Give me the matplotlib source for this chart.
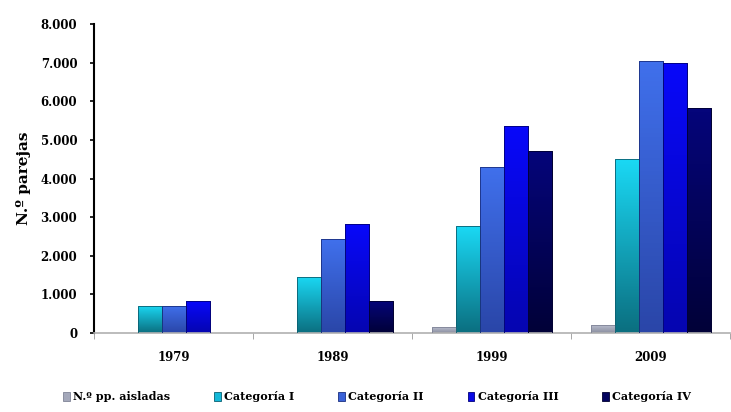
import matplotlib
matplotlib.use("Agg")
import matplotlib.pyplot as plt
import numpy as np
from matplotlib.colors import LinearSegmentedColormap

years = ["1979", "1989", "1999", "2009"]
series_names = ["N.º pp. aisladas", "Categoría I", "Categoría II", "Categoría III", "Categoría IV"]
pp_aisladas = [0, 0, 150, 200]
cat_I = [700, 1450, 2770, 4500]
cat_II = [700, 2430, 4300, 7050]
cat_III = [820, 2820, 5350, 7000]
cat_IV = [0, 840, 4700, 5820]
yticks = [0, 1000, 2000, 3000, 4000, 5000, 6000, 7000, 8000]
ytick_labels = ["0", "1.000", "2.000", "3.000", "4.000", "5.000", "6.000", "7.000", "8.000"]

colors = ["#a4a8ba", "#14b8d8", "#3a62d8", "#0a0ae6", "#03035e"]
top_colors = ["#b8bccc", "#1ad8f4", "#4070ec", "#0808fa", "#05057a"]
bot_colors = ["#8a8ea0", "#0b6f80", "#2a46a8", "#0505b0", "#010138"]
edge = ["#7f8396", "#0a5f70", "#1a2f80", "#00007a", "#000030"]

plt.rcParams['font.family'] = ['DejaVu Serif']
plt.rcParams['font.weight'] = 'bold'

fig = plt.figure(figsize=(7.31, 4.12), dpi=100)
ax = fig.add_axes([94/731, 1-333/412, 636/731, 309/412])

data = [pp_aisladas, cat_I, cat_II, cat_III, cat_IV]
x = np.arange(len(years))
w = 24/159
ax.set_xlim(-0.5, len(years)-0.5)
ax.set_ylim(0, 8000)
for i, vals in enumerate(data):
    bars = ax.bar(x + (i-2)*w, vals, width=w, color=colors[i], edgecolor=edge[i],
                  linewidth=0.6, label=series_names[i], zorder=2)
    cmap = LinearSegmentedColormap.from_list("g%d" % i, [bot_colors[i], top_colors[i]])
    grad = np.linspace(0, 1, 64).reshape(-1, 1)
    for b in bars:
        h = b.get_height()
        if h <= 0:
            continue
        x0 = b.get_x()
        im = ax.imshow(grad, cmap=cmap, origin='lower', aspect='auto',
                       extent=(x0, x0 + b.get_width(), 0, h), zorder=2.5)
        im.set_clip_path(b)
        ax.bar(x0 + b.get_width()/2, h, width=b.get_width(), fill=False,
               edgecolor=edge[i], linewidth=0.6, zorder=3)

ax.set_xlim(-0.5, len(years)-0.5)
ax.set_ylim(0, 8000)
ax.set_yticks(yticks)
ax.set_yticklabels(ytick_labels, fontsize=8.5, fontweight='bold')
ax.set_xticks(x)
ax.set_xticklabels(years, fontsize=8.5, fontweight='bold')
ax.tick_params(axis='x', length=0, pad=13)
ax.set_xticks(np.arange(len(years)+1)-0.5, minor=True)
ax.tick_params(axis='x', which='minor', length=4, color='#999999', direction='out')
ax.tick_params(axis='y', length=3, width=1.2, color='black', pad=9)
ax.spines['top'].set_visible(False)
ax.spines['right'].set_visible(False)
ax.spines['left'].set_linewidth(1.5)
ax.spines['bottom'].set_color('#b0b0b0')
ax.spines['bottom'].set_linewidth(1.2)
ax.set_ylabel("N.º parejas", fontsize=11, fontweight='bold', labelpad=7)

handles = [plt.Rectangle((0, 0), 1, 1, facecolor=colors[i], edgecolor=edge[i], linewidth=0.6)
           for i in range(5)]
leg = fig.legend(handles, series_names, loc='center', bbox_to_anchor=(377/731, 1-397/412), ncol=5,
                 frameon=False, handlelength=0.6, handleheight=0.8,
                 handletextpad=0.3, columnspacing=3.95, prop={'weight': 'bold', 'size': 8})

fig.savefig("out.png", dpi=100)
